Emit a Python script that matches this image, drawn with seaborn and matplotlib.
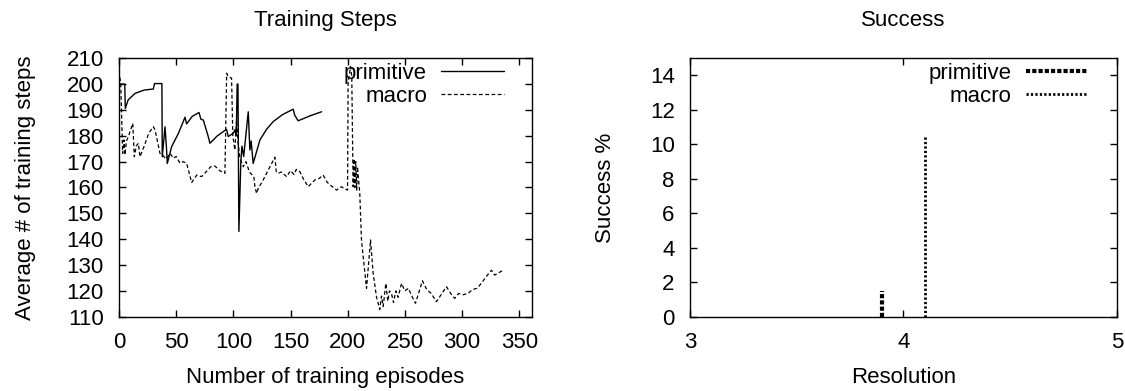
import numpy as np
import pandas as pd
import matplotlib
matplotlib.use("Agg")
import matplotlib.pyplot as plt
from matplotlib.lines import Line2D
import seaborn as sns

# Training steps, primitive actions
prim_x = [0, 5, 5.5, 8, 14, 22, 30, 31, 37.5, 37.8, 40.2, 41.6, 42.2, 46, 52, 57.7, 59.1,
          64, 69.9, 71.6, 73.7, 78, 79.5, 86, 94, 95.5, 99.9, 101.3, 102.5, 103.3, 104.0,
          104.8, 106.5, 107.5, 109, 113, 114.4, 115.5, 117.3, 123.2, 129, 134.8, 143,
          152.3, 153.6, 156.6, 166.9, 177.1]
prim_y = [200, 200, 190.6, 193.9, 196.4, 197.7, 198.1, 200.2, 200.2, 171.9, 183.5, 174.5,
          169.3, 175.8, 181, 187.2, 184.6, 187.5, 189, 186.4, 186.1, 179.7, 177.1, 180,
          182.5, 179.7, 181, 182.3, 180, 200, 200, 143, 170, 176, 172, 189.3, 174.5, 178,
          169.3, 178.4, 182.5, 185.5, 188.2, 190.3, 188, 185.8, 187.7, 189.3]

# Training steps, macro actions
macro_x = [0, 1.5, 3.2, 4.4, 5.2, 6.5, 8.2, 12, 13.4, 15, 16.9, 18.3, 22, 26, 30, 31.5,
           35.8, 38.1, 41, 44.6, 47.5, 50, 53.3, 56, 59.1, 63.5, 67.9, 72.2, 76, 80, 83.9,
           88, 92.6, 94.1, 95.5, 98.4, 99.5, 101.3, 102.8, 104, 105.5, 108.6, 111, 114,
           117.9, 118.8, 120.3, 122, 125, 129, 136.3, 137.5, 139.2, 142, 146.5, 150, 153,
           155, 158.1, 161, 165.4, 168, 171.2, 175, 178.5, 182, 186, 190.2, 194.5, 197,
           199.8, 200.3, 202.4, 203.5, 204.7, 205.5, 206.2, 207, 207.8, 208.5, 210.5, 212,
           213.5, 216.4, 219.9, 222.2, 225.1, 228, 229.5, 231, 233.3, 235, 236.5, 238.2,
           240, 242, 244, 247, 250, 253, 256, 259.2, 265.3, 269, 273, 277.5, 286.3, 290,
           293.5, 297, 301, 305.2, 309, 313, 316.8, 321, 325.6, 328.5, 332, 335.8]
macro_y = [205, 200, 173.2, 178.4, 172.6, 178, 179.7, 184.8, 171.9, 176, 177.1, 171.9, 176,
           181, 183.5, 182.3, 173.2, 172.6, 171, 173.2, 171.3, 172, 169.4, 170, 169.4,
           161.9, 164.8, 164.2, 166, 168, 168.3, 166.5, 165.5, 204.2, 202.9, 202.3, 180,
           174.5, 186.1, 178, 172, 168, 170, 166, 164.2, 160.3, 157.7, 160, 162, 165.5,
           171.7, 166, 165.5, 166, 164.2, 166.5, 165, 167, 166.1, 163.5, 160.3, 161.5,
           162.9, 163.5, 164.8, 162, 160.5, 159, 160.3, 159.5, 159, 200.3, 206.8, 203,
           160.3, 171, 160, 170, 159, 168, 157.7, 139.7, 133.2, 121, 139.7, 126.8, 117.7,
           112.8, 118, 114, 122.9, 116, 120, 119, 115.5, 120, 117.5, 122.9, 120, 121, 118,
           115.2, 123.9, 120.5, 119, 115.8, 121.6, 119, 117.1, 119, 118.5, 119, 120.5, 121,
           122.9, 125.5, 128, 126.1, 127, 128]

# Success rate by resolution
prim_res = [3.9]
prim_succ = [1.5]
macro_res = [4.1]
macro_succ = [10.5]

sns.set_theme(style="ticks")
plt.rcParams['font.family'] = ['Liberation Sans', 'DejaVu Sans']
plt.rcParams['text.color'] = 'black'
plt.rcParams['axes.labelcolor'] = 'black'
plt.rcParams['xtick.color'] = 'black'
plt.rcParams['ytick.color'] = 'black'
fs = 16

fig = plt.figure(figsize=(11.25, 3.91), dpi=100)
ax1 = fig.add_axes([0.1058, 0.19, 0.367, 0.661])
ax2 = fig.add_axes([0.6133, 0.19, 0.3796, 0.661])

steps = pd.DataFrame({'x': prim_x, 'y': prim_y})
steps_m = pd.DataFrame({'x': macro_x, 'y': macro_y})
sns.lineplot(data=steps, x='x', y='y', ax=ax1, color='black', lw=1.0,
             sort=False, estimator=None, label='primitive')
sns.lineplot(data=steps_m, x='x', y='y', ax=ax1, color='black', lw=0.9,
             linestyle=(0, (3, 2)), sort=False, estimator=None, label='macro')

ax1.set_xlim(0, 361)
ax1.set_ylim(110, 210)
ax1.set_xticks(np.arange(0, 351, 50))
ax1.set_yticks(np.arange(110, 211, 10))
ax1.set_title('Training Steps', fontsize=fs, pad=23)
ax1.set_xlabel('Number of training episodes', fontsize=fs, labelpad=10)
ax1.set_ylabel('Average # of training steps', fontsize=fs, labelpad=22)
ax1.legend(loc='upper right', bbox_to_anchor=(0.98, 1.06), frameon=False,
           markerfirst=False, fontsize=fs, handlelength=2.8, handletextpad=0.65,
           labelspacing=0.1)

ax2.vlines(prim_res, 0, prim_succ, color='black', lw=3, linestyles=[(0, (1, 0.5))])
ax2.vlines(macro_res, 0, macro_succ, color='black', lw=2, linestyles=[(0, (0.8, 0.8))])
ax2.set_xlim(3, 5)
ax2.set_ylim(0, 15)
ax2.set_xticks([3, 4, 5])
ax2.set_yticks(np.arange(0, 15, 2))
ax2.set_title('Success', fontsize=fs, pad=23)
ax2.set_xlabel('Resolution', fontsize=fs, labelpad=10)
ax2.set_ylabel('Success %', fontsize=fs, labelpad=24)
handles = [Line2D([], [], color='black', lw=3, linestyle=(0, (1, 0.5))),
           Line2D([], [], color='black', lw=2, linestyle=(0, (0.8, 0.8)))]
ax2.legend(handles, ['primitive', 'macro'], loc='upper right', bbox_to_anchor=(0.98, 1.06),
           frameon=False, markerfirst=False, fontsize=fs, handlelength=2.8,
           handletextpad=0.65, labelspacing=0.1)

for ax in (ax1, ax2):
    ax.tick_params(direction='in', length=5, width=1, labelsize=fs, top=True, right=True,
                   color='black', labelcolor='black', pad=11)
    for sp in ax.spines.values():
        sp.set_visible(True)
        sp.set_color('black')
        sp.set_linewidth(1)

fig.savefig('out.png', dpi=100)
